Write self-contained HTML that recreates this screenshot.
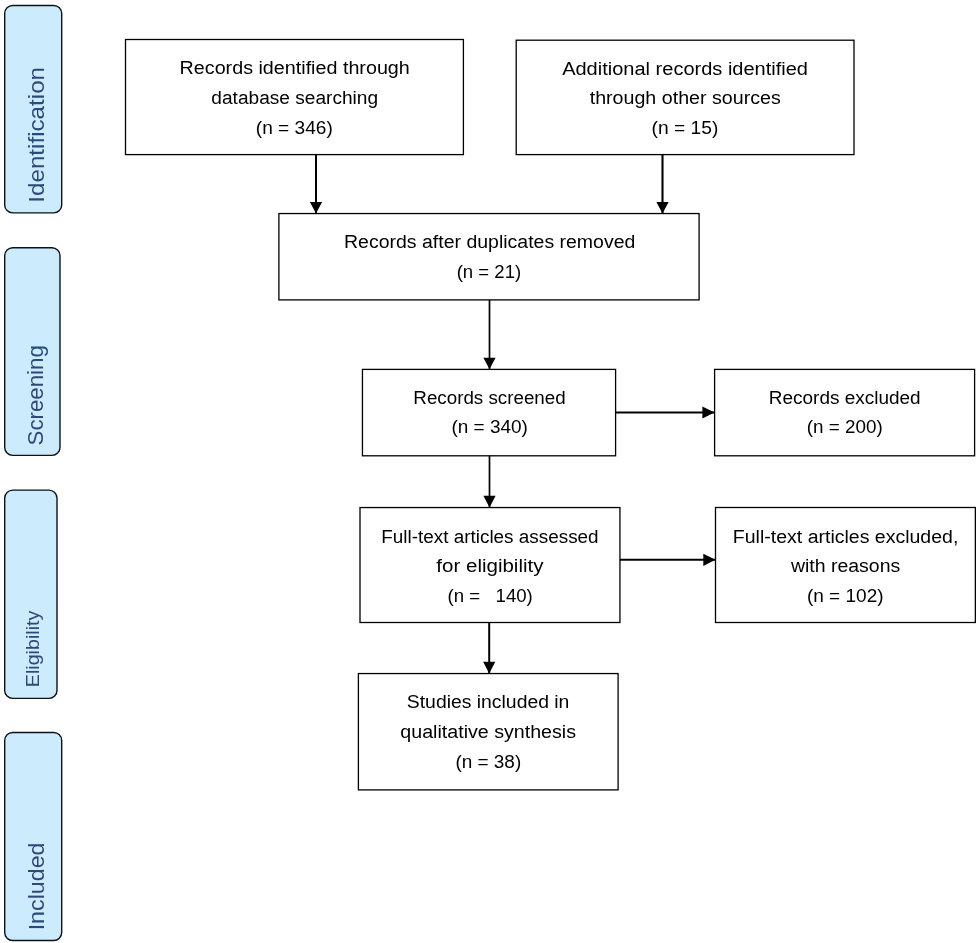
<!DOCTYPE html><html><head><meta charset="utf-8"><style>html,body{margin:0;padding:0;background:#fff;}svg{display:block;will-change:transform}text{font-family:"Liberation Sans", sans-serif;}</style></head><body>
<svg width="977" height="943" viewBox="0 0 977 943">
<rect x="0" y="0" width="977" height="943" fill="#fff"/>
<rect x="4.70" y="5.50" width="57.00" height="207.40" rx="8" ry="8" fill="#CCECFE" stroke="#0d1214" stroke-width="1.4"/>
<rect x="4.70" y="247.70" width="55.30" height="207.70" rx="8" ry="8" fill="#CCECFE" stroke="#0d1214" stroke-width="1.4"/>
<rect x="4.70" y="490.10" width="52.30" height="208.30" rx="8" ry="8" fill="#CCECFE" stroke="#0d1214" stroke-width="1.4"/>
<rect x="4.70" y="732.50" width="57.00" height="208.00" rx="8" ry="8" fill="#CCECFE" stroke="#0d1214" stroke-width="1.4"/>
<text transform="translate(43.60 202.69) rotate(-90)" x="0" y="0" font-size="21.50" fill="#2B4A7A" textLength="135.70" lengthAdjust="spacingAndGlyphs">Identification</text>
<text transform="translate(43.30 445.45) rotate(-90)" x="0" y="0" font-size="21.50" fill="#2B4A7A" textLength="100.31" lengthAdjust="spacingAndGlyphs">Screening</text>
<text transform="translate(39.30 687.25) rotate(-90)" x="0" y="0" font-size="18.20" fill="#2B4A7A" textLength="76.65" lengthAdjust="spacingAndGlyphs">Eligibility</text>
<text transform="translate(43.50 930.33) rotate(-90)" x="0" y="0" font-size="21.50" fill="#2B4A7A" textLength="87.83" lengthAdjust="spacingAndGlyphs">Included</text>
<rect x="125.50" y="39.50" width="337.90" height="115.10" fill="none" stroke="#000" stroke-width="1.3"/>
<rect x="516.20" y="40.20" width="337.80" height="114.40" fill="none" stroke="#000" stroke-width="1.3"/>
<rect x="278.90" y="213.55" width="420.20" height="86.35" fill="none" stroke="#000" stroke-width="1.3"/>
<rect x="362.45" y="369.40" width="253.15" height="86.40" fill="none" stroke="#000" stroke-width="1.3"/>
<rect x="714.60" y="369.40" width="260.00" height="86.40" fill="none" stroke="#000" stroke-width="1.3"/>
<rect x="360.00" y="507.55" width="259.95" height="114.95" fill="none" stroke="#000" stroke-width="1.3"/>
<rect x="715.50" y="507.50" width="259.85" height="115.00" fill="none" stroke="#000" stroke-width="1.3"/>
<rect x="358.40" y="673.55" width="259.70" height="116.35" fill="none" stroke="#000" stroke-width="1.3"/>
<line x1="316.00" y1="154.60" x2="316.00" y2="213.50" stroke="#000" stroke-width="2.00"/>
<polygon points="309.90,201.90 322.10,201.90 316.00,213.50" fill="#000"/>
<line x1="662.50" y1="154.60" x2="662.50" y2="213.60" stroke="#000" stroke-width="2.10"/>
<polygon points="656.40,202.00 668.60,202.00 662.50,213.60" fill="#000"/>
<line x1="489.50" y1="299.90" x2="489.50" y2="369.30" stroke="#000" stroke-width="1.70"/>
<polygon points="483.40,357.70 495.60,357.70 489.50,369.30" fill="#000"/>
<line x1="615.60" y1="412.50" x2="714.50" y2="412.50" stroke="#000" stroke-width="1.90"/>
<polygon points="702.40,406.40 702.40,418.60 714.50,412.50" fill="#000"/>
<line x1="489.50" y1="455.80" x2="489.50" y2="507.40" stroke="#000" stroke-width="1.70"/>
<polygon points="483.40,495.80 495.60,495.80 489.50,507.40" fill="#000"/>
<line x1="619.95" y1="559.80" x2="715.40" y2="559.80" stroke="#000" stroke-width="2.10"/>
<polygon points="703.30,553.70 703.30,565.90 715.40,559.80" fill="#000"/>
<line x1="489.20" y1="622.50" x2="489.20" y2="673.40" stroke="#000" stroke-width="2.00"/>
<polygon points="483.10,661.80 495.30,661.80 489.20,673.40" fill="#000"/>
<text x="294.70" y="74.20" font-size="18" fill="#000" text-anchor="middle" textLength="230.24" lengthAdjust="spacingAndGlyphs" xml:space="preserve">Records identified through</text>
<text x="294.75" y="103.60" font-size="18" fill="#000" text-anchor="middle" textLength="166.72" lengthAdjust="spacingAndGlyphs" xml:space="preserve">database searching</text>
<text x="294.31" y="133.60" font-size="18" fill="#000" text-anchor="middle" textLength="76.93" lengthAdjust="spacingAndGlyphs" xml:space="preserve">(n = 346)</text>
<text x="685.07" y="74.70" font-size="18" fill="#000" text-anchor="middle" textLength="245.85" lengthAdjust="spacingAndGlyphs" xml:space="preserve">Additional records identified</text>
<text x="685.22" y="103.90" font-size="18" fill="#000" text-anchor="middle" textLength="191.05" lengthAdjust="spacingAndGlyphs" xml:space="preserve">through other sources</text>
<text x="684.96" y="133.80" font-size="18" fill="#000" text-anchor="middle" textLength="66.89" lengthAdjust="spacingAndGlyphs" xml:space="preserve">(n = 15)</text>
<text x="489.71" y="248.10" font-size="18" fill="#000" text-anchor="middle" textLength="291.30" lengthAdjust="spacingAndGlyphs" xml:space="preserve">Records after duplicates removed</text>
<text x="488.93" y="277.50" font-size="18" fill="#000" text-anchor="middle" textLength="64.53" lengthAdjust="spacingAndGlyphs" xml:space="preserve">(n = 21)</text>
<text x="489.50" y="403.80" font-size="18" fill="#000" text-anchor="middle" textLength="152.29" lengthAdjust="spacingAndGlyphs" xml:space="preserve">Records screened</text>
<text x="489.62" y="433.40" font-size="18" fill="#000" text-anchor="middle" textLength="76.49" lengthAdjust="spacingAndGlyphs" xml:space="preserve">(n = 340)</text>
<text x="844.75" y="403.80" font-size="18" fill="#000" text-anchor="middle" textLength="151.72" lengthAdjust="spacingAndGlyphs" xml:space="preserve">Records excluded</text>
<text x="844.77" y="433.40" font-size="18" fill="#000" text-anchor="middle" textLength="75.89" lengthAdjust="spacingAndGlyphs" xml:space="preserve">(n = 200)</text>
<text x="489.95" y="542.60" font-size="18" fill="#000" text-anchor="middle" textLength="217.32" lengthAdjust="spacingAndGlyphs" xml:space="preserve">Full-text articles assessed</text>
<text x="489.92" y="571.70" font-size="18" fill="#000" text-anchor="middle" textLength="107.18" lengthAdjust="spacingAndGlyphs" xml:space="preserve">for eligibility</text>
<text x="490.13" y="601.80" font-size="18" fill="#000" text-anchor="middle" textLength="85.34" lengthAdjust="spacingAndGlyphs" xml:space="preserve">(n =&#160;&#160; 140)</text>
<text x="845.59" y="542.50" font-size="18" fill="#000" text-anchor="middle" textLength="225.46" lengthAdjust="spacingAndGlyphs" xml:space="preserve">Full-text articles excluded,</text>
<text x="845.57" y="571.60" font-size="18" fill="#000" text-anchor="middle" textLength="109.35" lengthAdjust="spacingAndGlyphs" xml:space="preserve">with reasons</text>
<text x="845.23" y="601.80" font-size="18" fill="#000" text-anchor="middle" textLength="76.66" lengthAdjust="spacingAndGlyphs" xml:space="preserve">(n = 102)</text>
<text x="488.12" y="708.10" font-size="18" fill="#000" text-anchor="middle" textLength="162.57" lengthAdjust="spacingAndGlyphs" xml:space="preserve">Studies included in</text>
<text x="488.20" y="737.90" font-size="18" fill="#000" text-anchor="middle" textLength="175.68" lengthAdjust="spacingAndGlyphs" xml:space="preserve">qualitative synthesis</text>
<text x="488.31" y="767.50" font-size="18" fill="#000" text-anchor="middle" textLength="65.83" lengthAdjust="spacingAndGlyphs" xml:space="preserve">(n = 38)</text>
</svg></body></html>
